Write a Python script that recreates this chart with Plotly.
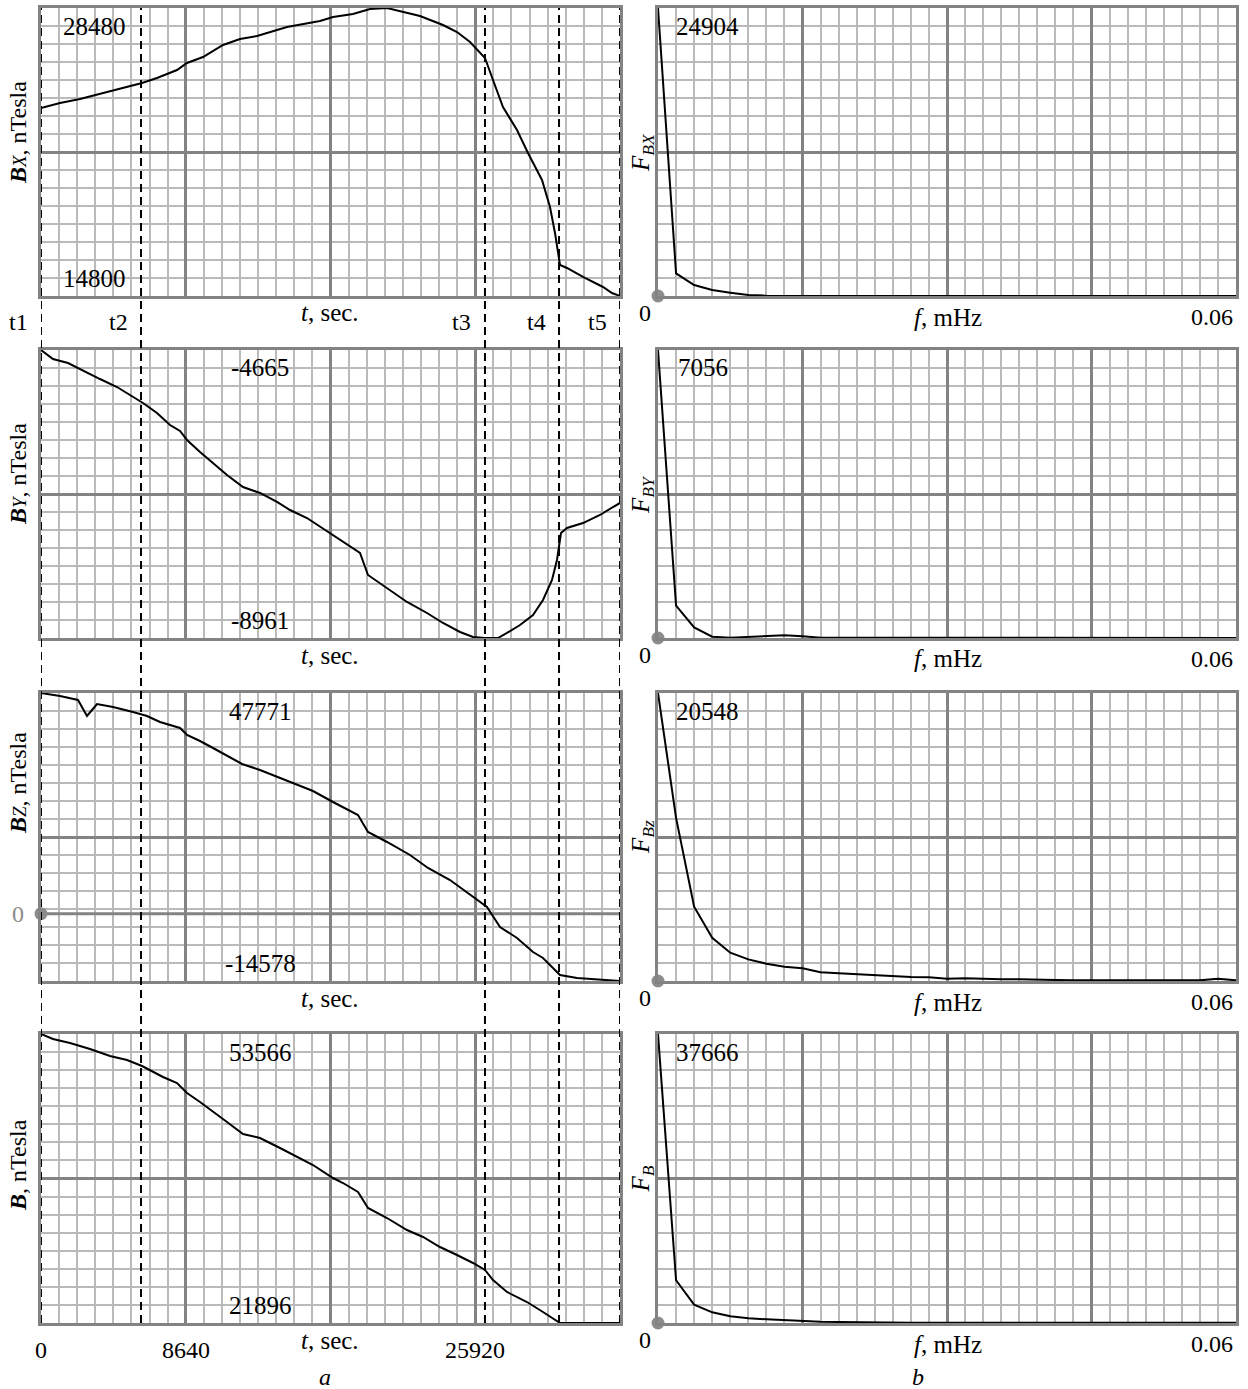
import plotly.graph_objects as go

# ---------------- data ----------------
t_bx = [0, 1134, 2328, 3521, 5014, 6029, 6924, 8118, 8715, 9670, 10863, 11878, 12893, 14683,
        16653, 17429, 18623, 19638, 20652, 21428, 22622, 23995, 24831, 25607, 26502, 26979,
        27576, 28412, 29068, 29904, 30381, 30680, 30978, 31396, 32351, 33545, 34082, 34560]
bx = [23730, 23968, 24158, 24395, 24680, 24918, 25155, 25535, 25868, 26153, 26723, 27008, 27150,
      27578, 27863, 28053, 28195, 28433, 28480, 28338, 28100, 27673, 27340, 26865, 26105, 25060,
      23778, 22685, 21593, 20310, 19028, 17793, 16273, 16130, 15703, 15228, 14943, 14800]

t_by = [0, 716, 1612, 2746, 3522, 4536, 5491, 6088, 6924, 7700, 8297, 8715, 9491, 10267, 11102,
        12057, 13072, 14087, 14863, 15877, 16235, 17429, 18026, 19041, 19518, 20652, 21846,
        23040, 23995, 25010, 25786, 26502, 27278, 27815, 28591, 29367, 29964, 30501, 30799,
        31038, 31396, 32351, 33366, 34142, 34560]
by = [-4665, -4799, -4859, -5008, -5098, -5217, -5366, -5455, -5605, -5784, -5873, -6007, -6186,
      -6351, -6530, -6709, -6798, -6932, -7052, -7171, -7231, -7425, -7529, -7693, -8021, -8215,
      -8424, -8588, -8737, -8871, -8946, -8961, -8961, -8886, -8767, -8618, -8394, -8096, -7797,
      -7395, -7320, -7246, -7126, -7007, -6947]

t_bz = [0, 1134, 2208, 2746, 3343, 4298, 5491, 6327, 7103, 8297, 8715, 9491, 10267, 11102, 11998,
        13072, 14087, 15280, 16235, 17429, 18026, 18921, 19518, 20652, 22025, 23100, 24413,
        25427, 26203, 26621, 27397, 28412, 29367, 29964, 30560, 30978, 31993, 33366, 34560]
bz = [47771, 47122, 46256, 42792, 45390, 44740, 43658, 42792, 41493, 40194, 38679, 37380, 35864,
      34132, 32400, 31101, 29586, 27854, 26555, 24174, 23091, 21359, 17679, 15514, 12700, 9885,
      7287, 4690, 2525, 1442, -2888, -5269, -8300, -9599, -11764, -13279, -13929, -14362, -14578]

t_b = [0, 716, 1731, 2925, 4119, 5133, 6029, 6506, 7282, 8118, 8715, 9491, 10267, 11102, 12057,
       13072, 14266, 15280, 16235, 17429, 18026, 18921, 19518, 20652, 21846, 22801, 23816,
       24831, 25786, 26502, 26979, 27815, 29009, 29964, 30978, 34560]
b = [53566, 53017, 52578, 51921, 51154, 50716, 50058, 49620, 48853, 48195, 47099, 46113, 45017,
     43922, 42607, 42168, 41073, 40086, 39210, 37785, 37237, 36251, 34498, 33402, 32087, 31320,
     30224, 29347, 28471, 27704, 26608, 25293, 24197, 23101, 21896, 21896]

# frequency grid, mHz
f = [0.0, 0.001875, 0.00375, 0.005625, 0.0075, 0.009375, 0.01125, 0.013125, 0.015, 0.016875,
     0.01875, 0.020625, 0.0225, 0.024375, 0.02625, 0.028125, 0.03, 0.031875, 0.03375, 0.035625,
     0.0375, 0.039375, 0.04125, 0.043125, 0.045, 0.046875, 0.04875, 0.050625, 0.0525, 0.054375,
     0.05625, 0.058125, 0.06]
fbx = [24904, 1962, 952, 519, 288, 87, 29, 18, 15, 12, 10, 10, 9, 9, 8, 8, 8, 7, 7, 7, 7, 6, 6,
       6, 6, 6, 5, 5, 5, 5, 5, 5, 5]
fby = [7056, 792, 261, 33, 8, 24, 49, 65, 41, 8, 5, 5, 5, 4, 4, 4, 4, 4, 3, 3, 3, 3, 3, 3, 3, 3,
       3, 3, 3, 3, 3, 3, 3]
fbz = [20548, 11640, 5300, 3088, 2019, 1544, 1235, 1021, 903, 618, 546, 475, 404, 333, 285, 261,
       166, 190, 143, 119, 119, 119, 71, 48, 48, 48, 48, 48, 48, 48, 48, 166, 48]
fb = [37666, 5574, 2395, 1393, 871, 610, 479, 348, 261, 174, 130, 87, 44, 35, 30, 30, 28, 28, 26,
      26, 25, 25, 24, 24, 24, 23, 23, 23, 22, 22, 22, 22, 22]

t_marks = [0, 5970, 26500, 30920, 34560]
t_mark_labels = ["t1", "t2", "t3", "t4", "t5"]
t_ticks = [0, 8640, 25920]
t_span = 34560
t_major = 8640
f_max = 0.06

left_titles = ["<b><i>B</i></b><i><span style='font-size:19px'>X</span></i>, nTesla",
               "<b><i>B</i></b><i><span style='font-size:19px'>Y</span></i>, nTesla",
               "<b><i>B</i></b><i><span style='font-size:19px'>Z</span></i>, nTesla",
               "<b><i>B</i></b>, nTesla"]
right_titles = ["<i>F<sub>BX</sub></i>", "<i>F<sub>BY</sub></i>",
                "<i>F<sub>Bz</sub></i>", "<i>F<sub>B</sub></i>"]

# ---------------- layout helpers ----------------
W, H = 1248, 1389
FONT = "Liberation Serif"
MAJ = "#838383"
MIN = "#bababa"
rows_px = [(8, 296), (350, 638), (693, 981), (1034, 1323)]
left_px = (41, 620)
right_px = (658, 1236)
title_y_left = [133, 474, 783, 1165]


def px(x):
    return x / W


def py(y):
    return 1 - y / H


def axis(domain, rng, dtick, minor, anchor):
    return dict(domain=domain, range=rng, anchor=anchor, tickmode="linear", tick0=rng[0],
                dtick=dtick, showticklabels=False, ticks="", showgrid=True, gridcolor=MAJ,
                gridwidth=3, minor=dict(tick0=rng[0], dtick=minor, showgrid=True, gridcolor=MIN,
                                        gridwidth=1.7, ticks=""),
                showline=True, linecolor=MAJ, linewidth=3, mirror=True, zeroline=False,
                fixedrange=True)


fig = go.Figure()
layout = dict(width=W, height=H, autosize=False, margin=dict(l=0, r=0, t=0, b=0),
              plot_bgcolor="white", paper_bgcolor="white", showlegend=False,
              font=dict(family=FONT, size=25, color="black"))
annotations = []
shapes = []


def ann(text, x, y, size=25, color="black", angle=0, xanchor="center"):
    annotations.append(dict(text=text, x=px(x), y=py(y), xref="paper", yref="paper",
                            showarrow=False, font=dict(family=FONT, size=size, color=color),
                            textangle=angle, xanchor=xanchor, yanchor="middle"))


series = [(t_bx, bx), (t_by, by), (t_bz, bz), (t_b, b)]
spectra = [fbx, fby, fbz, fb]

for r in range(4):
    il, ir = 2 * r + 1, 2 * r + 2
    xl = "x" if il == 1 else f"x{il}"
    yl = "y" if il == 1 else f"y{il}"
    xr, yr = f"x{ir}", f"y{ir}"
    ydom = [py(rows_px[r][1]), py(rows_px[r][0])]

    tt, vv = series[r]
    vmin, vmax = min(vv), max(vv)
    span = vmax - vmin
    layout["xaxis" if il == 1 else f"xaxis{il}"] = axis([px(left_px[0]), px(left_px[1])],
                                                        [0, t_span], t_major, t_major / 8, yl)
    layout["yaxis" if il == 1 else f"yaxis{il}"] = axis(ydom, [vmin, vmax], span / 2, span / 16, xl)

    smax = spectra[r][0]
    layout[f"xaxis{ir}"] = axis([px(right_px[0]), px(right_px[1])], [0, f_max], f_max / 4,
                                f_max / 32, yr)
    layout[f"yaxis{ir}"] = axis(ydom, [0, smax], smax / 2, smax / 16, xr)

    fig.add_trace(go.Scatter(x=tt, y=vv, mode="lines", line=dict(color="black", width=2),
                             xaxis=xl, yaxis=yl, hoverinfo="skip"))
    fig.add_trace(go.Scatter(x=f, y=spectra[r], mode="lines", line=dict(color="black", width=2),
                             xaxis=xr, yaxis=yr, hoverinfo="skip"))
    fig.add_trace(go.Scatter(x=[0], y=[0], mode="markers", cliponaxis=False,
                             marker=dict(color="#8c8c8c", size=13), xaxis=xr, yaxis=yr,
                             hoverinfo="skip"))

    top, bot = rows_px[r]
    # value labels inside the panels
    lx = 95 if r == 0 else 260
    ann(f"{vmax:.0f}", lx, top + 18)
    ann(f"{vmin:.0f}", lx, bot - 18)
    ann(f"{smax:.0f}", 707 if r != 1 else 703, top + 18)
    # axis titles
    ann(left_titles[r], 18, title_y_left[r], size=24, angle=-90)
    ann(right_titles[r], 642, (top + bot) / 2, size=25, angle=-90)
    # x axis titles
    ann("<i>t</i>, sec.", 330, bot + 17, size=25)
    ann("0", 645, bot + 17, size=24)
    ann("<i>f</i>, mHz", 948, bot + 21, size=25)
    ann("0.06", 1212, bot + 21, size=24)

# zero line and dot for Bz
shapes.append(dict(type="line", xref="x5", yref="y5", x0=0, x1=t_span, y0=0, y1=0,
                   line=dict(color=MAJ, width=3), layer="between"))
fig.add_trace(go.Scatter(x=[0], y=[0], mode="markers", cliponaxis=False,
                         marker=dict(color="#8c8c8c", size=13), xaxis="x5", yaxis="y5",
                         hoverinfo="skip"))
annotations.append(dict(text="0", x=0, y=0, xref="x5", yref="y5", xshift=-23,
                        showarrow=False, font=dict(family=FONT, size=24, color="#8c8c8c"),
                        xanchor="center", yanchor="middle"))

# dashed time markers crossing all left panels
for tm in t_marks:
    shapes.append(dict(type="line", xref="x", yref="paper", x0=tm, x1=tm,
                       y0=py(rows_px[3][1]), y1=py(rows_px[0][0]),
                       line=dict(color="black", width=2, dash="8px,5px"), layer="above"))
for tm, lab in zip(t_marks, t_mark_labels):
    annotations.append(dict(text=lab, x=tm, y=py(322), xref="x", yref="paper", xshift=-23,
                            showarrow=False, font=dict(family=FONT, size=24),
                            xanchor="center", yanchor="middle"))

# bottom time ticks
for tv in t_ticks:
    annotations.append(dict(text=f"{tv}", x=tv, y=py(1350), xref="x7", yref="paper",
                            showarrow=False, font=dict(family=FONT, size=24),
                            xanchor="center", yanchor="middle"))

ann("<i>a</i>", 325, 1377, size=24)
ann("<i>b</i>", 918, 1377, size=24)

layout["annotations"] = annotations
layout["shapes"] = shapes
fig.update_layout(**layout)
fig.write_html("out.html", config={"displayModeBar": False},
               post_script="document.body.style.margin='0px';"
                           "document.body.style.overflow='hidden';")
